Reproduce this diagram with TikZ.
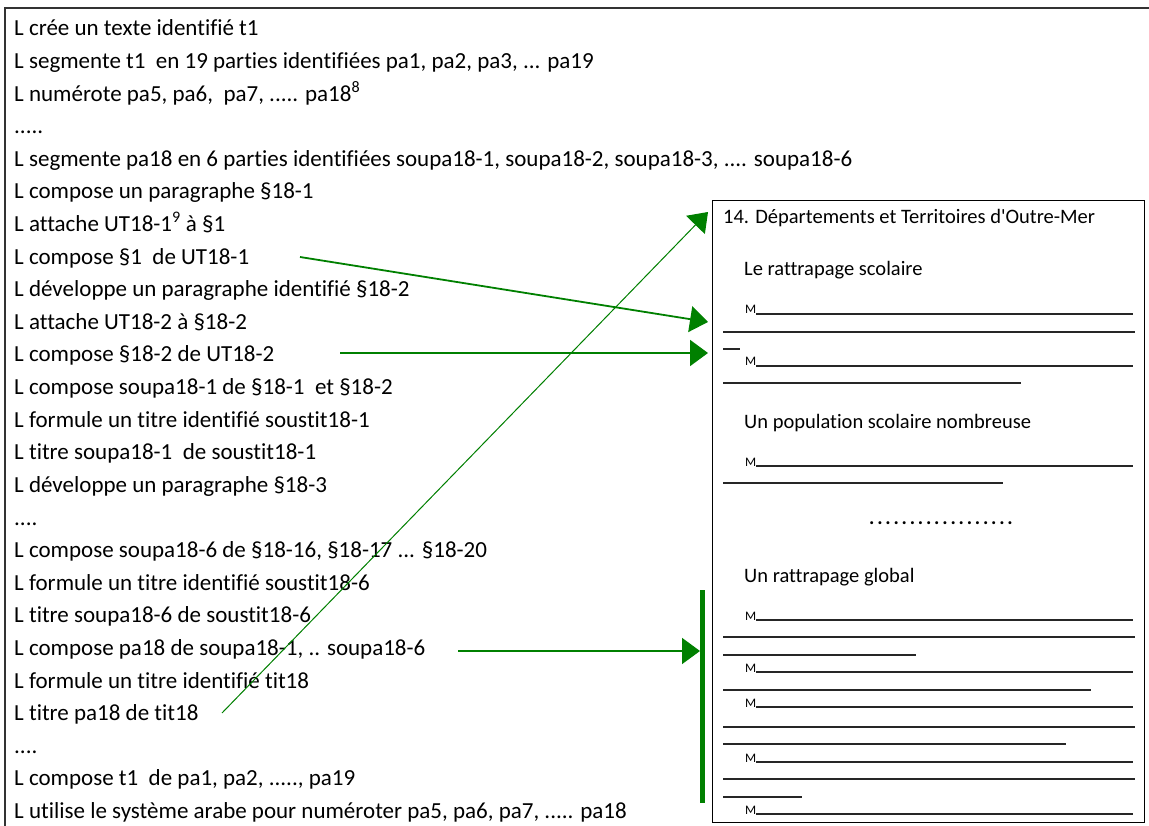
\documentclass[tikz,border=0pt]{standalone}
\usepackage{fontspec}
\setmainfont{Carlito}[Ligatures={NoCommon}]
\usetikzlibrary{arrows.meta,calc}
\definecolor{arrowgreen}{RGB}{0,128,0}
\tikzset{
  ltxt/.style={anchor=base west, inner sep=0pt, font=\fontsize{23}{26}\selectfont},
  rtitle/.style={anchor=base west, inner sep=0pt, font=\fontsize{20.5}{24}\selectfont},
  rhead/.style={anchor=base west, inner sep=0pt, font=\fontsize{20.5}{24}\selectfont},
  mlab/.style={anchor=base west, inner sep=0pt, font=\fontsize{13}{15}\selectfont},
  rule/.style={line width=1.2pt, black!85},
  frame/.style={line width=2pt, black!80},
  garrow/.style={arrowgreen, -{Triangle[length=18pt,width=26pt]}},
}
\begin{document}
\begin{tikzpicture}[x=1pt,y=-1pt]
\useasboundingbox (0,0) rectangle (1149,826);
\fill[white] (0,0) rectangle (1149,826);
% outer frame (only top and left visible)
\draw[frame] (5,826) -- (5,8.5) -- (1149,8.5);
% left text
\foreach \i/\t in {
 1/{L crée un texte identifié t1},
 2/{L segmente t1 \ en 19 parties identifiées pa1, pa2, pa3, ... pa19},
 3/{L numérote pa5, pa6, \ pa7, ..... pa18\textsuperscript{8}},
 4/{.....},
 5/{L segmente pa18 en 6 parties identifiées soupa18-1, soupa18-2, soupa18-3, .... soupa18-6},
 6/{L compose un paragraphe §18-1},
 7/{L attache UT18-1\textsuperscript{9} à §1},
 8/{L compose §1 \ de UT18-1},
 9/{L développe un paragraphe identifié §18-2},
 10/{L attache UT18-2 à §18-2},
 11/{L compose §18-2 de UT18-2},
 12/{L compose soupa18-1 de §18-1 \ et §18-2},
 13/{L formule un titre identifié soustit18-1},
 14/{L titre soupa18-1 \ de soustit18-1},
 15/{L développe un paragraphe §18-3},
 16/{....},
 17/{L compose soupa18-6 de §18-16, §18-17 ... §18-20},
 18/{L formule un titre identifié soustit18-6},
 19/{L titre soupa18-6 de soustit18-6},
 20/{L compose pa18 de soupa18-1, .. soupa18-6},
 21/{L formule un titre identifié tit18},
 22/{L titre pa18 de tit18},
 23/{....},
 24/{L compose t1 \ de pa1, pa2, ....., pa19},
 25/{L utilise le système arabe pour numéroter pa5, pa6, pa7, ..... pa18}}
 { \node[ltxt] (l\i) at (14, {36+(\i-1)*32.6}) {\t}; }
% right document box
\node[draw, line width=1.3pt, inner sep=0pt, minimum width=432pt, minimum height=622pt, anchor=north west] (doc) at (712,200) {};
\node[rtitle] (title) at (723,224) {14. Départements et Territoires d\textquotesingle Outre-Mer};
\node[rhead] (h1) at (744,276) {Le rattrapage scolaire};
\node[rhead] (h2) at (744,428) {Un population scolaire nombreuse};
\node[font=\bfseries\fontsize{20}{24}\selectfont\addfontfeature{LetterSpace=14}, inner sep=0pt, anchor=base] (dots) at (941,524) {..................};
\node[rhead] (h3) at (744,582) {Un rattrapage global};
% M rows
\foreach \y in {314,366,466,620,672,707,762,814}{
  \node[mlab] at (745,\y) {M};
  \draw[rule] (756,\y) -- (1133,\y);
}
% full lines
\foreach \y in {332,637,727,779}{ \draw[rule] (723,\y) -- (1135,\y); }
% partial lines
\foreach \x/\y in {740/349,1021/383,1003/483,916/655,1091/690,1066/744,802/797}{
  \draw[rule] (723,\y) -- (\x,\y);
}
% connectors
\coordinate (s1) at (222,713);
\coordinate (e1) at (708,212);
\coordinate (s2) at (300,257);
\coordinate (e2) at (708,322);
\coordinate (s3) at (340,353);
\coordinate (e3) at (708,353);
\coordinate (s4) at (458,651);
\coordinate (e4) at (700,651);
\coordinate (bt) at (702,590);
\coordinate (bb) at (702,803);
\draw[garrow, line width=1pt] (s1) -- (e1);
\draw[garrow, line width=1.8pt] (s2) -- (e2);
\draw[garrow, line width=2pt] (s3) -- (e3);
\draw[garrow, line width=1.8pt] (s4) -- (e4);
\draw[arrowgreen, line width=5pt] (bt) -- (bb);
\end{tikzpicture}
\end{document}
